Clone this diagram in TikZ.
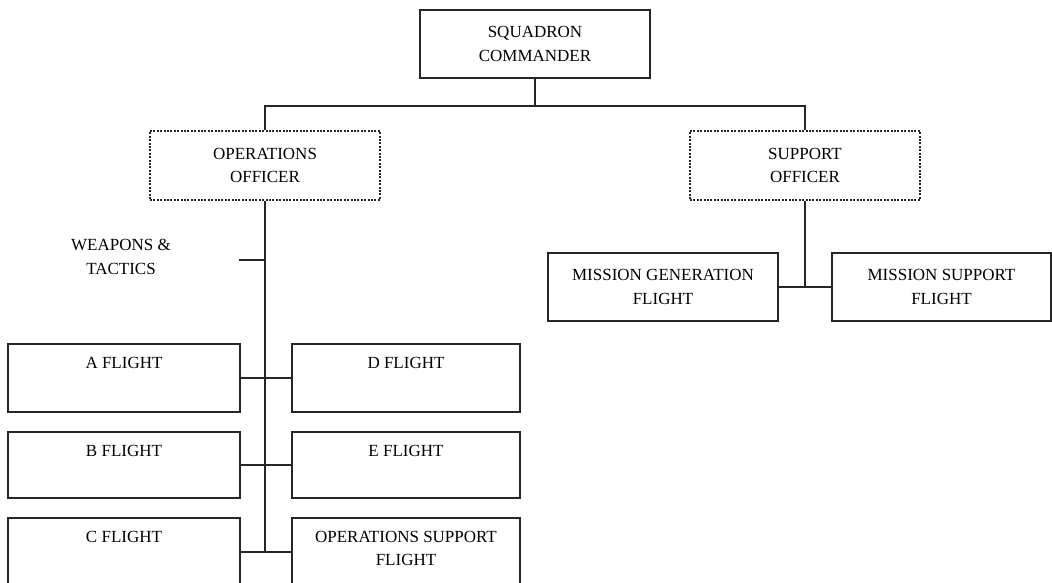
\documentclass[tikz,border=0pt]{standalone}
\usepackage{fontspec}
\setmainfont{Liberation Serif}
\begin{document}
\begin{tikzpicture}[x=1pt,y=-1pt,
  box/.style={draw=black!85, line width=2pt, rectangle, inner sep=0pt, align=center,
    font=\fontsize{17}{23.5}\selectfont},
  dbox/.style={box, line width=1.6pt, dash pattern=on 2pt off 1.4pt},
  lbl/.style={inner sep=0pt, align=center, anchor=north, font=\fontsize{17}{23.5}\selectfont},
  conn/.style={draw=black!85, line width=2pt}]
\useasboundingbox (0,0) rectangle (1052,582);
% top
\node[box, minimum width=230, minimum height=68] (sq) at (535,44) {SQUADRON\\COMMANDER};
\node[dbox, minimum width=230, minimum height=69] (ops) at (265,165.5) {OPERATIONS\\OFFICER};
\node[dbox, minimum width=230, minimum height=69] (sup) at (805,165.5) {SUPPORT\\OFFICER};
% weapons & tactics
\node[lbl] (wt) at (121,239) {WEAPONS \&\\TACTICS};
\coordinate (wtick) at (239,260);
% flights
\node[box, minimum width=232, minimum height=68] (A) at (124,378) {};
\node[box, minimum width=228, minimum height=68] (D) at (406,378) {};
\node[box, minimum width=232, minimum height=66] (B) at (124,465) {};
\node[box, minimum width=228, minimum height=66] (E) at (406,465) {};
\node[box, minimum width=232, minimum height=68] (C) at (124,552) {};
\node[box, minimum width=228, minimum height=68] (OSF) at (406,552) {};
\node[lbl] (At) at (A.north |- 0,357) {A FLIGHT};
\node[lbl] (Dt) at (D.north |- 0,357) {D FLIGHT};
\node[lbl] (Bt) at (B.north |- 0,445) {B FLIGHT};
\node[lbl] (Et) at (E.north |- 0,445) {E FLIGHT};
\node[lbl] (Ct) at (C.north |- 0,531) {C FLIGHT};
\node[lbl] (OSFt) at (OSF.north |- 0,531) {OPERATIONS SUPPORT\\FLIGHT};
% support side
\node[box, minimum width=230, minimum height=68] (mg) at (663,287) {MISSION GENERATION\\FLIGHT};
\node[box, minimum width=219, minimum height=68] (ms) at (941.5,287) {MISSION SUPPORT\\FLIGHT};
% connectors
\draw[conn] (sq.south) -- ++(0,27) -| (ops.north);
\draw[conn] (sq.south) -- ++(0,27) -| (sup.north);
\draw[conn] (ops.south) -- (ops.south |- C.east);
\draw[conn] (wtick) -- (ops.south |- wtick);
\draw[conn] (A.east) -- (D.west);
\draw[conn] (B.east) -- (E.west);
\draw[conn] (C.east) -- (OSF.west);
\draw[conn] (sup.south) -- (sup.south |- mg.east);
\draw[conn] (mg.east) -- (ms.west);
\end{tikzpicture}
\end{document}
